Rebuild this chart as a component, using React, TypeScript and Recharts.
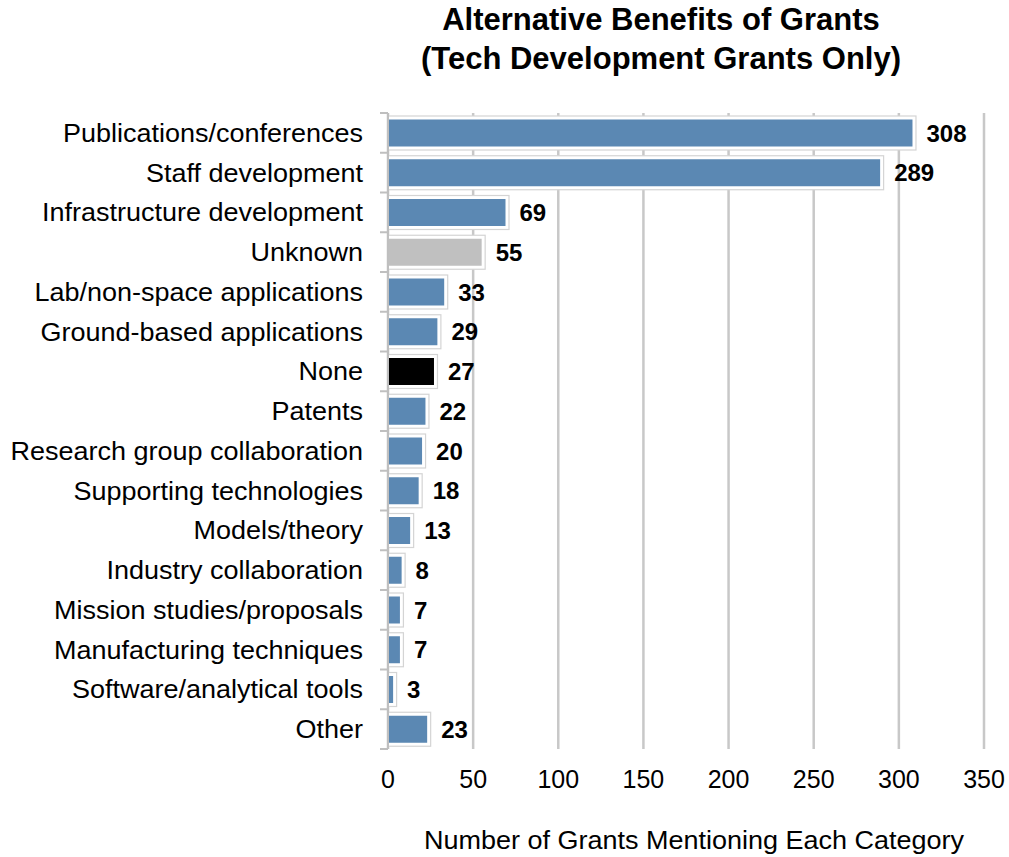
import React from "react";
import { BarChart, Bar, XAxis, YAxis, CartesianGrid, Cell, LabelList, Label } from "recharts";

const categories = [
  "Publications/conferences",
  "Staff development",
  "Infrastructure development",
  "Unknown",
  "Lab/non-space applications",
  "Ground-based applications",
  "None",
  "Patents",
  "Research group collaboration",
  "Supporting technologies",
  "Models/theory",
  "Industry collaboration",
  "Mission studies/proposals",
  "Manufacturing techniques",
  "Software/analytical tools",
  "Other",
];
const values = [308, 289, 69, 55, 33, 29, 27, 22, 20, 18, 13, 8, 7, 7, 3, 23];
const colors = [
  "#5B88B3", "#5B88B3", "#5B88B3", "#C0C0C0", "#5B88B3", "#5B88B3", "#000000", "#5B88B3",
  "#5B88B3", "#5B88B3", "#5B88B3", "#5B88B3", "#5B88B3", "#5B88B3", "#5B88B3", "#5B88B3",
];
const xTicks = [0, 50, 100, 150, 200, 250, 300, 350];

const data = categories.map((name, i) => ({ name, value: values[i], color: colors[i] }));

const FONT = "'Liberation Sans', Arial, sans-serif";
const W = 1009;
const H = 857;
const M = { top: 113, right: 25, left: 8, bottom: 0 };
const X_AXIS_H = 108;
const Y_AXIS_W = 380;
const BAND = (H - M.top - M.bottom - X_AXIS_H) / categories.length;
const STRETCH = 1.08;

const BarShape = (props: any) => {
  const { x, y, width, height, payload } = props;
  const inset = 3.5;
  return (
    <g>
      <rect x={x} y={y} width={Math.max(width + 3.5, 0)} height={height} fill="#ffffff" stroke="#d4d4d4" strokeWidth={1.2} />
      <rect x={x} y={y + inset} width={Math.max(width, 0)} height={height - inset * 2} fill={payload.color} />
    </g>
  );
};

const YTick = (props: any) => {
  const { x, y, payload, index } = props;
  const ax = x;
  return (
    <g>
      <line x1={ax - 8} x2={ax} y1={y - BAND / 2} y2={y - BAND / 2} stroke="#bfbfbf" strokeWidth={2} />
      {index === categories.length - 1 && (
        <line x1={ax - 8} x2={ax} y1={y + BAND / 2} y2={y + BAND / 2} stroke="#bfbfbf" strokeWidth={2} />
      )}
      <g transform={`translate(${ax - 25},${y}) scale(${STRETCH},1)`}>
        <text x={0} y={0} dy="0.36em" textAnchor="end" fontFamily={FONT} fontSize={25} fill="#000">
          {payload.value}
        </text>
      </g>
    </g>
  );
};

const XTick = (props: any) => {
  const { x, y, payload } = props;
  return (
    <text x={x} y={y + 39} textAnchor="middle" fontFamily={FONT} fontSize={25} fill="#000">
      {payload.value}
    </text>
  );
};

const ValueLabel = (props: any) => {
  const { x, y, width, height, value } = props;
  return (
    <text x={x + width + 14} y={y + height / 2} dy="0.36em" textAnchor="start" fontFamily={FONT} fontWeight="bold" fontSize={24} fill="#000">
      {value}
    </text>
  );
};

export default function App() {
  return (
    <div style={{ position: "relative", width: W, height: H, overflow: "hidden" }}>
      <style>{`html, body { margin: 0; padding: 0; overflow: hidden; }`}</style>
      <div
        style={{
          position: "absolute",
          left: 661 - 400,
          width: 800,
          top: 0,
          textAlign: "center",
          fontFamily: FONT,
          fontWeight: "bold",
          fontSize: 31,
          lineHeight: "39px",
        }}
      >
        Alternative Benefits of Grants
        <br />
        (Tech Development Grants Only)
      </div>
      <BarChart width={W} height={H} data={data} layout="vertical" margin={M} barCategoryGap={0}>
        <CartesianGrid horizontal={false} vertical={true} stroke="#c8c8c8" strokeWidth={2.5} />
        <XAxis
          type="number"
          domain={[0, 350]}
          ticks={xTicks}
          axisLine={false}
          tickLine={false}
          tickSize={0}
          tickMargin={0}
          height={X_AXIS_H}
          tick={<XTick />}
          interval={0}
        >
          <Label
            content={(p: any) => {
              const vb = p.viewBox;
              return (
                <g transform={`translate(${vb.x + vb.width / 2 + 8},${vb.y + 100}) scale(${STRETCH},1)`}>
                  <text x={0} y={0} textAnchor="middle" fontFamily={FONT} fontSize={25} fill="#000">
                    Number of Grants Mentioning Each Category
                  </text>
                </g>
              );
            }}
          />
        </XAxis>
        <YAxis
          type="category"
          dataKey="name"
          width={Y_AXIS_W}
          axisLine={{ stroke: "#bfbfbf", strokeWidth: 2 }}
          tickLine={false}
          tickSize={0}
          tickMargin={0}
          tick={<YTick />}
          interval={0}
        />
        <Bar dataKey="value" barSize={34} isAnimationActive={false} shape={<BarShape />}>
          {data.map((d, i) => (
            <Cell key={i} fill={d.color} />
          ))}
          <LabelList dataKey="value" content={<ValueLabel />} />
        </Bar>
      </BarChart>
    </div>
  );
}
